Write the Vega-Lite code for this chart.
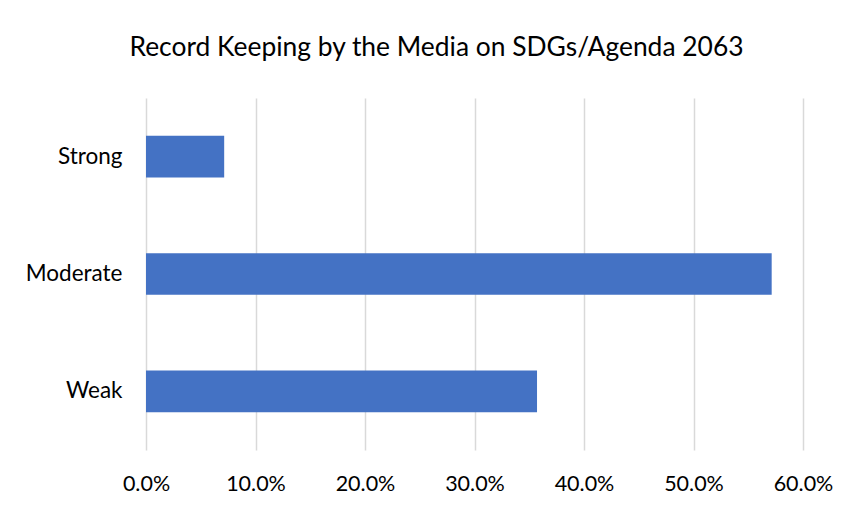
{
  "$schema": "https://vega.github.io/schema/vega-lite/v6.json",
  "autosize": "none",
  "padding": {"left": 146, "top": 98, "right": 46, "bottom": 56},
  "width": 657,
  "height": 352,
  "background": "white",
  "config": {"view": {"stroke": null}, "font": "Lato"},
  "title": {
    "text": "Record Keeping by the Media on SDGs/Agenda 2063",
    "font": "Lato",
    "fontSize": 26.4,
    "fontWeight": "normal",
    "color": "#000000",
    "anchor": "middle",
    "frame": "group",
    "dx": -38,
    "offset": 37
  },
  "data": {
    "values": [
      {"level": "Strong", "share": 0.0714},
      {"level": "Moderate", "share": 0.5714},
      {"level": "Weak", "share": 0.3571}
    ]
  },
  "mark": {"type": "bar", "color": "#4472C4"},
  "encoding": {
    "y": {
      "field": "level",
      "type": "nominal",
      "sort": ["Strong", "Moderate", "Weak"],
      "scale": {"paddingInner": 0.645, "paddingOuter": 0.3225},
      "axis": {
        "title": null,
        "domain": false,
        "ticks": false,
        "labelPadding": 24,
        "labelFont": "Lato",
        "labelFontSize": 22.5,
        "labelColor": "#000000"
      }
    },
    "x": {
      "field": "share",
      "type": "quantitative",
      "scale": {"domain": [0, 0.6], "nice": false},
      "axis": {
        "title": null,
        "format": ".1%",
        "values": [0, 0.1, 0.2, 0.3, 0.4, 0.5, 0.6],
        "domain": false,
        "ticks": false,
        "grid": true,
        "gridColor": "#d9d9d9",
        "gridWidth": 1.5,
        "labelPadding": 23,
        "labelFont": "Lato",
        "labelFontSize": 21.5,
        "labelColor": "#000000",
        "labelFlush": false
      }
    }
  }
}
